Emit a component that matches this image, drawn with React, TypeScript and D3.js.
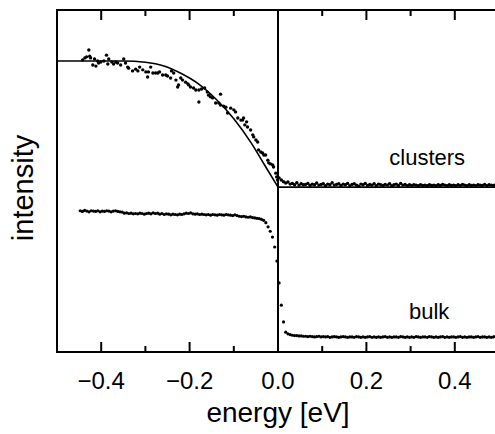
import React, { useEffect } from 'react';
import * as d3 from 'd3';

const W = 495;
const H = 434;

const majorTicks = [-0.4, -0.2, 0.0, 0.2, 0.4];
const minorTicks = [-0.3, -0.1, 0.1, 0.3];
const tickLabels = ['−0.4', '−0.2', '0.0', '0.2', '0.4'];

// fit curve for clusters (energy, intensity)
const fitE = [-0.5, -0.35, -0.3, -0.26, -0.22, -0.18, -0.14, -0.1, -0.06, -0.03, 0.0];
const fitI = [85.1, 85.1, 84.7, 83.7, 81.5, 78.4, 73.9, 68.2, 61.0, 54.6, 48.2];
const fitRightE = [0.0, 0.5];
const fitRightI = [48.2, 48.2];

// clusters data below Fermi level (scattered)
const clustersLeftE = [
  -0.442, -0.437, -0.433, -0.428, -0.426, -0.424, -0.419, -0.415, -0.412, -0.408,
  -0.406, -0.401, -0.394, -0.388, -0.385, -0.383, -0.376, -0.372, -0.367, -0.363,
  -0.356, -0.349, -0.345, -0.34, -0.338, -0.329, -0.322, -0.317, -0.313, -0.306,
  -0.299, -0.295, -0.293, -0.288, -0.283, -0.277, -0.272, -0.268, -0.261, -0.254,
  -0.25, -0.243, -0.241, -0.236, -0.231, -0.227, -0.225, -0.22, -0.216, -0.209,
  -0.204, -0.202, -0.198, -0.191, -0.186, -0.179, -0.179, -0.173, -0.166, -0.16,
  -0.157, -0.153, -0.148, -0.141, -0.134, -0.13, -0.13, -0.123, -0.118, -0.114,
  -0.107, -0.1, -0.096, -0.091, -0.084, -0.08, -0.078, -0.075, -0.071, -0.069,
  -0.062, -0.057, -0.055, -0.05, -0.046, -0.044, -0.039, -0.035, -0.032, -0.028,
  -0.023, -0.021, -0.017, -0.012, -0.01, -0.005, -0.003, -0.001,
];
const clustersLeftI = [
  85.4, 86.0, 86.3, 88.3, 86.5, 86.0, 83.9, 85.7, 83.6, 85.1,
  84.5, 84.8, 85.1, 86.8, 84.2, 85.7, 84.8, 84.2, 84.8, 84.5,
  83.9, 85.7, 84.5, 83.3, 83.0, 82.2, 82.7, 82.2, 83.3, 82.5,
  81.9, 80.4, 81.9, 83.3, 81.6, 81.6, 81.6, 81.9, 81.0, 81.0,
  80.7, 80.1, 82.2, 81.6, 79.5, 77.5, 78.1, 80.1, 79.5, 78.9,
  78.4, 78.1, 77.5, 77.2, 76.6, 73.1, 76.6, 76.9, 77.2, 76.0,
  75.1, 74.6, 74.3, 72.8, 72.8, 75.4, 72.2, 71.9, 71.6, 69.9,
  71.3, 70.8, 70.2, 68.4, 67.8, 67.8, 68.4, 66.4, 67.3, 65.8,
  64.9, 63.5, 62.9, 62.0, 61.4, 59.1, 58.5, 58.2, 57.6, 57.6,
  56.1, 55.3, 55.0, 54.7, 54.1, 52.3, 51.2, 50.3,
];

// clusters data above Fermi level, sampled every 5 meV from 2.5 meV
const clustersRightStart = 0.0025;
const clustersRightStep = 0.005;
const clustersRightI = [
  50.9, 50.3, 49.8, 49.4, 49.7, 49.1, 49.3, 48.9, 49.5, 48.8,
  49.2, 48.9, 49.0, 49.3, 48.7, 49.1, 48.9, 49.4, 48.8, 49.0,
  49.2, 48.6, 49.1, 48.9, 49.5, 48.8, 49.0, 49.2, 48.7, 49.1,
  48.9, 49.3, 48.6, 49.0, 49.2, 48.8, 48.5, 49.1, 48.9, 49.3,
  48.7, 49.0, 48.8, 49.2, 48.6, 49.1, 48.9, 48.7, 49.0, 48.8,
  49.2, 48.6, 48.9, 49.1, 48.7, 49.3, 48.8, 49.0, 48.6, 48.9,
  48.7, 48.9, 48.8, 48.6, 48.9, 48.7, 48.8, 48.6, 48.9, 48.7,
  48.8, 48.6, 48.9, 48.7, 49.0, 48.8, 48.6, 48.9, 48.7, 48.8,
  48.6, 48.9, 48.7, 49.0, 48.8, 48.6, 48.9, 48.7, 48.8, 48.6,
  48.9, 48.8, 48.7, 49.0, 48.6, 48.9, 48.8, 48.7, 48.9, 48.6,
];

// bulk spectrum sampled every 5 meV
const bulkStart = -0.4475;
const bulkStep = 0.005;
const bulkI = [
  41.3, 41.1, 41.4, 41.2, 41.0, 41.3, 41.2, 41.1, 41.3, 41.0,
  41.2, 41.1, 41.3, 41.2, 41.0, 41.2, 41.3, 41.1, 41.0, 40.9,
  40.6, 40.7, 40.5, 40.6, 40.4, 40.5, 40.4, 40.6, 40.5, 40.3,
  40.5, 40.6, 40.4, 40.7, 40.5, 40.6, 40.3, 40.5, 40.2, 40.4,
  40.3, 40.1, 40.3, 40.2, 40.1, 40.3, 40.2, 40.4, 40.6, 40.5,
  40.7, 40.4, 40.3, 40.4, 40.2, 40.3, 40.2, 40.1, 40.2, 40.0,
  40.2, 40.1, 40.0, 40.2, 40.1, 40.0, 40.2, 40.1, 40.0, 39.9,
  40.1, 39.9, 39.7, 39.6, 39.7, 39.5, 39.4, 39.5, 39.3, 39.2,
  39.1,
  39.0, 38.8, 38.5, 37.8, 36.6, 35.3, 33.6, 30.7, 26.6, 20.2,
  13.7, 8.8, 5.8, 5.3, 5.1, 4.9, 4.8, 4.8, 4.7,
  4.7, 4.6, 4.6, 4.5, 4.6, 4.5, 4.4, 4.5, 4.6, 4.4,
  4.5, 4.4, 4.5, 4.3, 4.4, 4.5, 4.4, 4.3, 4.4, 4.5,
  4.4, 4.3, 4.4, 4.4, 4.3, 4.5, 4.4, 4.3, 4.4, 4.3,
  4.4, 4.5, 4.3, 4.4, 4.3, 4.4, 4.3, 4.4, 4.5, 4.3,
  4.4, 4.3, 4.4, 4.4, 4.3, 4.5, 4.4, 4.3, 4.4, 4.3,
  4.4, 4.3, 4.5, 4.4, 4.3, 4.4, 4.4, 4.3, 4.5, 4.4,
  4.3, 4.4, 4.3, 4.4, 4.5, 4.3, 4.4, 4.3, 4.4, 4.4,
  4.3, 4.4, 4.5, 4.3, 4.4, 4.3, 4.4, 4.4, 4.3, 4.4,
  4.5, 4.3, 4.4, 4.4, 4.3, 4.4, 4.3, 4.4, 4.5, 4.3,
];

const FONT = '"Liberation Sans", Arial, Helvetica, sans-serif';

export default function App() {
  useEffect(() => {
    document.body.style.margin = '0';
  }, []);

  const left = 57;
  const top = 10;
  const bottom = 352;
  const x = d3.scaleLinear().domain([-0.5, 0.5]).range([left, 499]);
  const y = d3.scaleLinear().domain([0, 100]).range([bottom, top]);

  const fitLine = d3
    .line<number>()
    .x((_, i) => x(fitE[i]))
    .y((d) => y(d))
    .curve(d3.curveMonotoneX);
  const fitRight = d3
    .line<number>()
    .x((_, i) => x(fitRightE[i]))
    .y((d) => y(d));

  const bulkPts = bulkI.map((v, i) => [bulkStart + i * bulkStep, v]);
  const crPts = clustersRightI.map((v, i) => [clustersRightStart + i * clustersRightStep, v]);
  const clPts = clustersLeftI.map((v, i) => [clustersLeftE[i], v]);

  return (
    <svg width={W} height={H} style={{ display: 'block', background: '#fff' }} fontFamily={FONT}>
      {/* fit curves */}
      <path d={fitLine(fitI) || ''} fill="none" stroke="#000" strokeWidth={1.6} />
      <path d={fitRight(fitRightI) || ''} fill="none" stroke="#000" strokeWidth={1.6} />

      {/* data points */}
      {clPts.map((p, i) => (
        <circle key={'cl' + i} cx={x(p[0])} cy={y(p[1])} r={1.7} fill="#000" />
      ))}
      {crPts.map((p, i) => (
        <circle key={'cr' + i} cx={x(p[0])} cy={y(p[1])} r={1.7} fill="#000" />
      ))}
      {bulkPts.map((p, i) => (
        <circle key={'b' + i} cx={x(p[0])} cy={y(p[1])} r={1.6} fill="#000" />
      ))}

      {/* frame */}
      <line x1={left} x2={W} y1={top} y2={top} stroke="#000" strokeWidth={2} />
      <line x1={left} x2={W} y1={bottom} y2={bottom} stroke="#000" strokeWidth={2} />
      <line x1={left} x2={left} y1={top - 1} y2={bottom + 1} stroke="#000" strokeWidth={2} />
      <line x1={x(0)} x2={x(0)} y1={top} y2={bottom} stroke="#000" strokeWidth={2} />

      {/* ticks */}
      {majorTicks.map((t) => (
        <g key={'M' + t}>
          <line x1={x(t)} x2={x(t)} y1={top} y2={top + 10} stroke="#000" strokeWidth={2} />
          <line x1={x(t)} x2={x(t)} y1={bottom} y2={bottom - 10} stroke="#000" strokeWidth={2} />
        </g>
      ))}
      {minorTicks.map((t) => (
        <g key={'m' + t}>
          <line x1={x(t)} x2={x(t)} y1={top} y2={top + 6} stroke="#000" strokeWidth={2} />
          <line x1={x(t)} x2={x(t)} y1={bottom} y2={bottom - 6} stroke="#000" strokeWidth={2} />
        </g>
      ))}
      {majorTicks.map((t, i) => (
        <text key={'L' + t} x={x(t)} y={389} textAnchor="middle" fontSize={24} fill="#000">
          {tickLabels[i]}
        </text>
      ))}

      {/* labels */}
      <text x={x(0)} y={422} textAnchor="middle" fontSize={28} fill="#000">
        energy [eV]
      </text>
      <text
        transform={`translate(33,188) rotate(-90)`}
        textAnchor="middle"
        fontSize={29}
        fill="#000"
      >
        intensity
      </text>
      <text x={x(0.3375)} y={165} textAnchor="middle" fontSize={22} fill="#000">
        clusters
      </text>
      <text x={x(0.342)} y={319} textAnchor="middle" fontSize={22} fill="#000">
        bulk
      </text>
    </svg>
  );
}
